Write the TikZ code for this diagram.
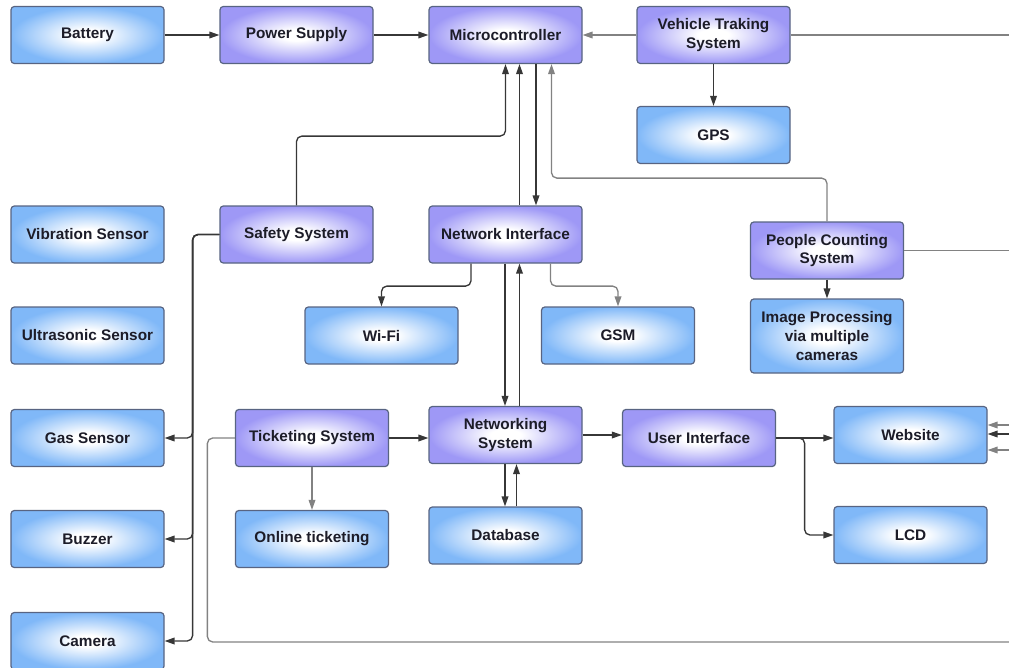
\documentclass[tikz,border=0pt]{standalone}
\usepackage{fontspec}
\setmainfont{Liberation Sans}
\usetikzlibrary{arrows.meta,calc}
\definecolor{blueedge}{RGB}{128,184,248}
\definecolor{purpleedge}{RGB}{158,152,246}
\definecolor{bordercol}{RGB}{88,100,130}
\definecolor{textcol}{RGB}{28,28,40}
\definecolor{darkline}{RGB}{55,55,55}
\definecolor{greyline}{RGB}{130,130,130}
\pgfdeclareradialshading{blueshade}{\pgfpoint{0bp}{0bp}}{color(0bp)=(white); color(5bp)=(white); color(25bp)=(blueedge); color(50bp)=(blueedge)}
\pgfdeclareradialshading{purpleshade}{\pgfpoint{0bp}{0bp}}{color(0bp)=(white); color(5bp)=(white); color(25bp)=(purpleedge); color(50bp)=(purpleedge)}
\newcommand\boxfont{\fontsize{11.5}{13.8}\selectfont\bfseries}
\begin{document}
\begin{tikzpicture}[x=0.75pt,y=-0.75pt,
  box/.style={rounded corners=2.5pt, draw=bordercol, line width=0.9pt,
    minimum width=114.75pt, minimum height=42.75pt, inner sep=0pt,
    align=center, font=\boxfont, text=textcol},
  bluebox/.style={box, shade, shading=blueshade},
  purplebox/.style={box, shade, shading=purpleshade},
  arr/.style={draw=darkline, line width=1pt, -{Triangle[length=7.5pt,width=5pt]}},
  arrg/.style={draw=greyline, line width=1pt, -{Triangle[length=7.5pt,width=5pt]}},
  lineg/.style={draw=greyline, line width=1pt},
  rc/.style={rounded corners=4pt}]
\useasboundingbox (0,0) rectangle (1009,667);

% nodes
\node[bluebox]   (bat)   at (87.5,35)   {Battery};
\node[purplebox] (ps)    at (296.5,35)  {Power Supply};
\node[purplebox] (mc)    at (505.5,35)  {Microcontroller};
\node[purplebox] (vts)   at (713.5,35)  {Vehicle Traking\\System};
\node[bluebox]   (gps)   at (713.5,135) {GPS};
\node[bluebox]   (vib)   at (87.5,234.5) {Vibration Sensor};
\node[purplebox] (safe)  at (296.5,234.5) {Safety System};
\node[purplebox] (ni)    at (505.5,234.5) {Network Interface};
\node[purplebox] (pcs)   at (827,250.5) {People Counting\\System};
\node[bluebox]   (ultra) at (87.5,335.5) {Ultrasonic Sensor};
\node[bluebox]   (wifi)  at (381.5,335.5) {Wi-Fi};
\node[bluebox]   (gsm)   at (618,335.5) {GSM};
\node[bluebox, minimum height=55.5pt, font=\fontsize{11.5}{14.2}\selectfont\bfseries] (imgp) at (827,336) {Image Processing\\via multiple\\cameras};
\node[bluebox]   (gas)   at (87.5,438)  {Gas Sensor};
\node[purplebox] (tick)  at (312,438)   {Ticketing System};
\node[purplebox] (nets)  at (505.5,435) {Networking\\System};
\node[purplebox] (ui)    at (699,438)   {User Interface};
\node[bluebox]   (web)   at (910.5,435) {Website};
\node[bluebox]   (buzz)  at (87.5,539)  {Buzzer};
\node[bluebox]   (onl)   at (312,539)   {Online ticketing};
\node[bluebox]   (db)    at (505.5,535.5) {Database};
\node[bluebox]   (lcd)   at (910.5,535) {LCD};
\node[bluebox]   (cam)   at (87.5,641)  {Camera};

% free ends at the right edge
\coordinate (vtsR)  at (1012,35);
\coordinate (pcsR)  at (1012,250.5);
\coordinate (loopR) at (1012,642);
\coordinate (wr1)   at (1012,425);
\coordinate (wr2)   at (1012,434);
\coordinate (wr3)   at (1012,450);

% connectors
\draw[arr] (bat) -- (ps);
\draw[arr] (ps) -- (mc);
\draw[arrg] (vts) -- (mc);
\draw[lineg] (vts.east) -- (vtsR);
\draw[arr] (vts) -- (gps);
\draw[arr,rc] (safe.north) |- ($(mc.south)+(0,72)$) -- (mc.south);
\draw[arr] ($(ni.north)+(14,0)$) -- ($(mc.south)+(14,0)$);
\draw[arr] ($(mc.south)+(30.5,0)$) -- ($(ni.north)+(30.5,0)$);
\draw[arrg,rc] (pcs.north) |- ($(mc.south)+(46,114)$) -- ($(mc.south)+(46,0)$);
\draw[lineg] (pcs.east) -- (pcsR);
\draw[arr] (pcs) -- (imgp);
\draw[arr,rc] ($(ni.south)+(-34.5,0)$) -- ($(ni.south)+(-34.5,22.5)$) -| (wifi.north);
\draw[arrg,rc] ($(ni.south)+(45,0)$) -- ($(ni.south)+(45,22.5)$) -| (gsm.north);
\draw[arr,rc] (safe.west) -| ($(gas.east)+(28,0)$) -- (gas.east);
\draw[arr,rc] (safe.west) -| ($(buzz.east)+(28,0)$) -- (buzz.east);
\draw[arr,rc] (safe.west) -| ($(cam.east)+(28,0)$) -- (cam.east);
\draw[arr] ($(ni.south)+(-0.5,0)$) -- ($(nets.north)+(-0.5,0)$);
\draw[arr] ($(nets.north)+(14,0)$) -- ($(ni.south)+(14,0)$);
\draw[arr] (tick.east) -- (tick.east -| nets.west);
\draw[arrg] (tick) -- (onl);
\draw[lineg,rc] (tick.west) -- ($(tick.west)+(-27.5,0)$) |- (loopR);
\draw[arr] (nets.east) -- (nets.east -| ui.west);
\draw[arr] ($(nets.south)+(-0.5,0)$) -- ($(db.north)+(-0.5,0)$);
\draw[arr] ($(db.north)+(11,0)$) -- ($(nets.south)+(11,0)$);
\draw[arr] (ui.east) -- (ui.east -| web.west);
\draw[arr,rc] (ui.east) -| ($(ui.east)+(28.5,48)$) |- (lcd.west);
\draw[arrg] (wr1) -- (wr1 -| web.east);
\draw[arr] (wr2) -- (wr2 -| web.east);
\draw[arrg] (wr3) -- (wr3 -| web.east);
\end{tikzpicture}
\end{document}
